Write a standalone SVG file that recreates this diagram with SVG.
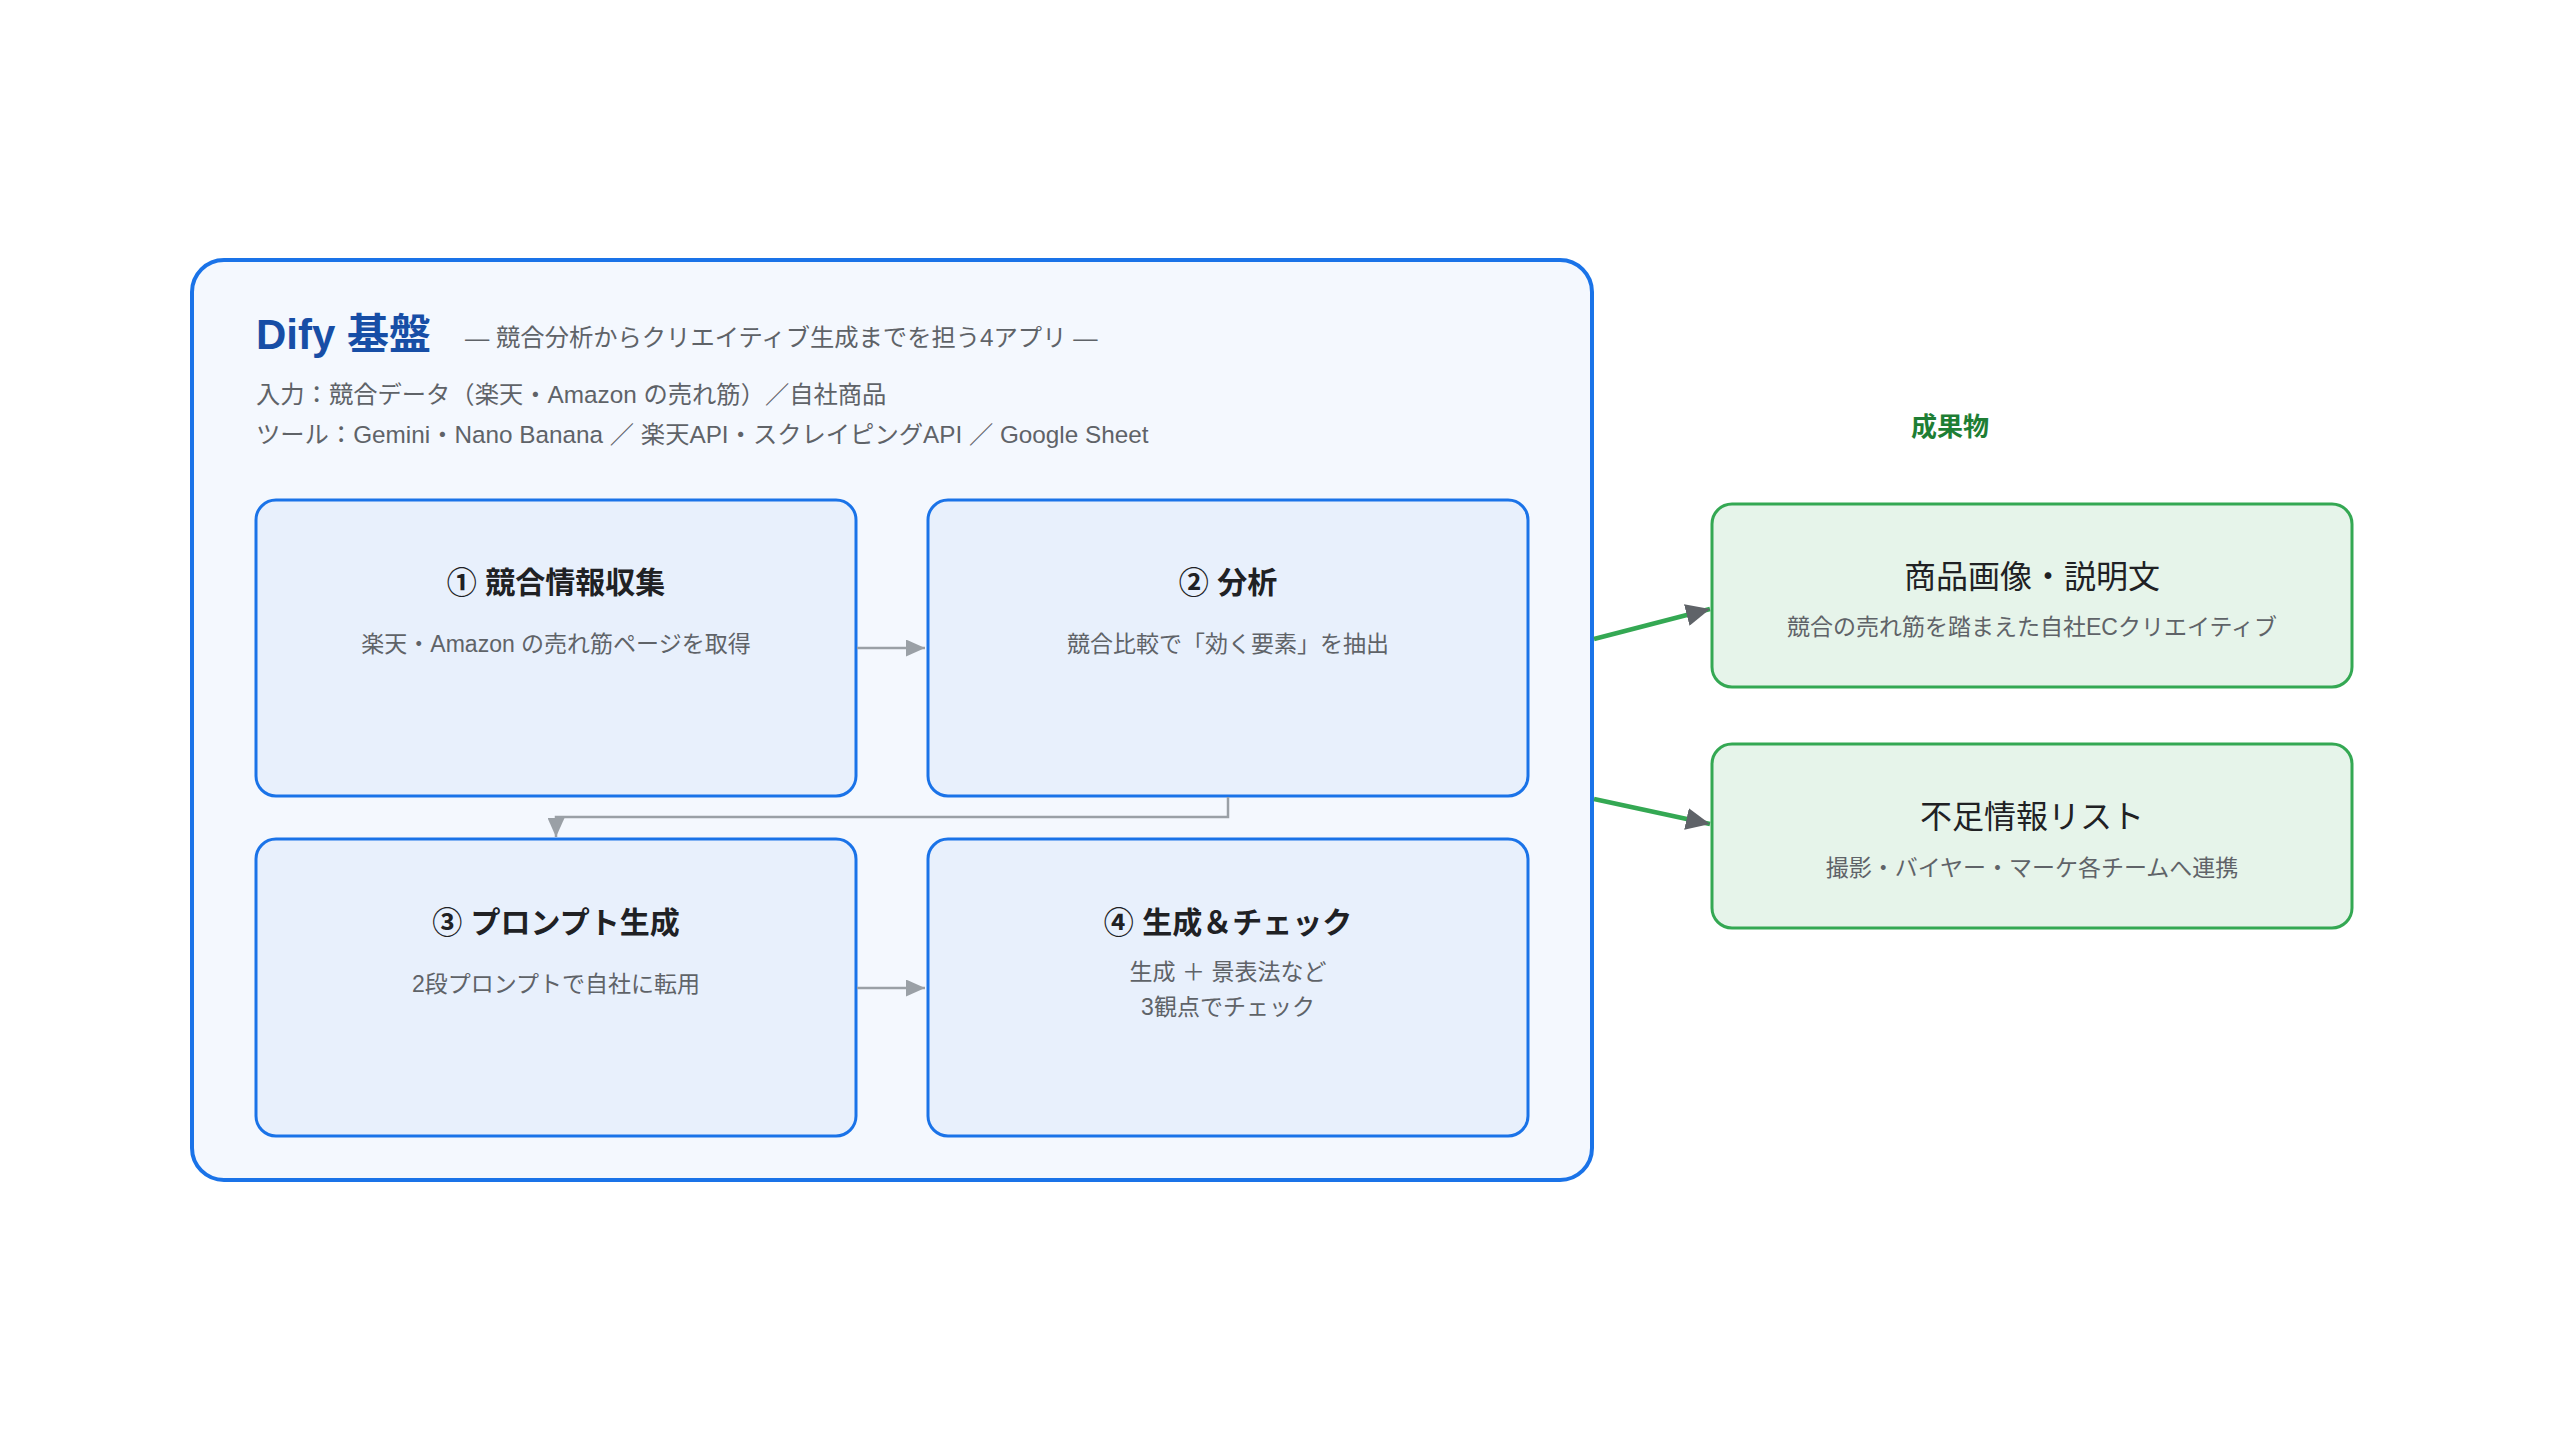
<svg xmlns="http://www.w3.org/2000/svg" width="2560" height="1440" viewBox="0 0 2560 1440">
  <style>
    text { font-family: "Liberation Sans", "Noto Sans CJK JP", sans-serif; }
    .container { fill: #f4f8fe; stroke: #1a73e8; stroke-width: 4; }
    .step { fill: #e8f0fc; stroke: #1a73e8; stroke-width: 3; }
    .out { fill: #e6f4ea; stroke: #34a853; stroke-width: 3; }
    .h1 { font-size: 42px; font-weight: 700; fill: #174ea6; }
    .meta { font-size: 24.3px; fill: #5f6368; }
    .stitle { font-size: 30px; font-weight: 700; fill: #202124; text-anchor: middle; }
    .ssub { font-size: 23px; fill: #5f6368; text-anchor: middle; }
    .otitle { font-size: 32px; fill: #202124; text-anchor: middle; }
    .glabel { font-size: 26px; font-weight: 700; fill: #1e7e34; text-anchor: middle; }
    .flow { fill: none; stroke: #9aa0a6; stroke-width: 2.5; }
    .deliv { fill: none; stroke: #34a853; stroke-width: 4.5; }
  </style>
  <defs>
    <marker id="arrGray" markerUnits="userSpaceOnUse" markerWidth="19" markerHeight="17" refX="19" refY="8.5" orient="auto">
      <path d="M0,0 L19,8.5 L0,17 Z" fill="#9aa0a6"/>
    </marker>
    <marker id="arrDark" markerUnits="userSpaceOnUse" markerWidth="24" markerHeight="22" refX="24" refY="11" orient="auto">
      <path d="M0,0 L24,11 L0,22 Z" fill="#5f6368"/>
    </marker>
  </defs>
  <rect width="2560" height="1440" fill="#ffffff"/>

  <g id="dify-platform">
    <rect class="container" x="192" y="260" width="1400" height="920" rx="32"/>
    <text class="h1" x="256" y="349">Dify 基盤</text>
    <text class="meta" x="465" y="346">— 競合分析からクリエイティブ生成までを担う4アプリ —</text>
    <text class="meta" x="256" y="403">入力：競合データ（楽天・Amazon の売れ筋）／自社商品</text>
    <text class="meta" x="256" y="443">ツール：Gemini・Nano Banana ／ 楽天API・スクレイピングAPI ／ Google Sheet</text>
  </g>

  <g id="step1">
    <rect class="step" x="256" y="500" width="600" height="296" rx="20"/>
    <text class="stitle" x="556" y="593">① 競合情報収集</text>
    <text class="ssub" x="556" y="652">楽天・Amazon の売れ筋ページを取得</text>
  </g>
  <g id="step2">
    <rect class="step" x="928" y="500" width="600" height="296" rx="20"/>
    <text class="stitle" x="1228" y="593">② 分析</text>
    <text class="ssub" x="1228" y="652">競合比較で「効く要素」を抽出</text>
  </g>
  <g id="step3">
    <rect class="step" x="256" y="839" width="600" height="297" rx="20"/>
    <text class="stitle" x="556" y="933">③ プロンプト生成</text>
    <text class="ssub" x="556" y="992">2段プロンプトで自社に転用</text>
  </g>
  <g id="step4">
    <rect class="step" x="928" y="839" width="600" height="297" rx="20"/>
    <text class="stitle" x="1228" y="933">④ 生成＆チェック</text>
    <text class="ssub" x="1228" y="980">生成 ＋ 景表法など</text>
    <text class="ssub" x="1228" y="1015">3観点でチェック</text>
  </g>

  <text class="glabel" x="1950" y="436">成果物</text>

  <g id="output1">
    <rect class="out" x="1712" y="504" width="640" height="183" rx="20"/>
    <text class="otitle" x="2032" y="588">商品画像・説明文</text>
    <text class="ssub" x="2032" y="635">競合の売れ筋を踏まえた自社ECクリエイティブ</text>
  </g>
  <g id="output2">
    <rect class="out" x="1712" y="744" width="640" height="184" rx="20"/>
    <text class="otitle" x="2032" y="828">不足情報リスト</text>
    <text class="ssub" x="2032" y="876">撮影・バイヤー・マーケ各チームへ連携</text>
  </g>

  <g id="connectors">
    <path class="flow" d="M857,648 H925" marker-end="url(#arrGray)"/>
    <path class="flow" d="M1228,797 V817 H556 V837" marker-end="url(#arrGray)"/>
    <path class="flow" d="M857,988 H925" marker-end="url(#arrGray)"/>
    <path class="deliv" d="M1594,639 L1710,609" marker-end="url(#arrDark)"/>
    <path class="deliv" d="M1594,799 L1710,824" marker-end="url(#arrDark)"/>
  </g>
</svg>
